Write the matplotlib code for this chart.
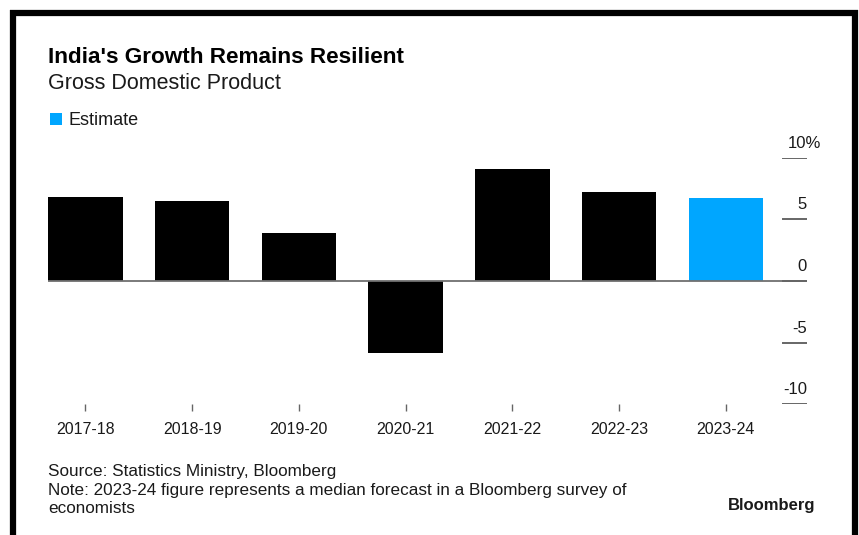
import matplotlib.pyplot as plt
from matplotlib.lines import Line2D
from matplotlib.patches import Rectangle

# GDP growth by fiscal year, last one is the survey estimate
years = ["2017-18", "2018-19", "2019-20", "2020-21", "2021-22", "2022-23", "2023-24"]
growth = [6.8, 6.5, 3.9, -5.8, 9.1, 7.2, 6.7]
is_estimate = [False, False, False, False, False, False, True]
y_ticks = [10, 5, 0, -5, -10]
y_labels = ["10%", "5", "0", "-5", "-10"]

BLUE = "#00a6ff"
GRAY = "#666666"
TXT = "#1a1a1a"

plt.rcParams["font.family"] = ["Liberation Sans", "DejaVu Sans"]

fig = plt.figure(figsize=(8.59, 5.35), dpi=100)
fig.patch.set_facecolor("white")

# frame round the whole graphic
W, H = 859.0, 535.0
frame = dict(color="black", lw=4.5, solid_capstyle="butt")
fig.add_artist(Line2D([13 / W, 13 / W], [0, 1 - 10 / H], **frame))
fig.add_artist(Line2D([10 / W, 858 / W], [1 - 13 / H, 1 - 13 / H], **frame))
fig.add_artist(Line2D([855 / W, 855 / W], [0, 1 - 10 / H], **frame))

ax = fig.add_axes([48 / W, 1 - 404.3 / H, (807 - 48) / W, (404.3 - 157.7) / H])
x = list(range(len(years)))
colors = [BLUE if e else "black" for e in is_estimate]
ax.bar(x, growth, width=0.7, color=colors, zorder=2)
ax.set_xlim(-0.35, 6.76)
ax.set_ylim(-10, 10)

for s in ax.spines.values():
    s.set_visible(False)
ax.axhline(0, color="#707070", lw=1.3, zorder=3)

# right-hand scale: short rule under each label, the % sign hangs past the rule
for v, lab in zip(y_ticks, y_labels):
    ax.axhline(v, xmin=0.968, xmax=1.0, color=GRAY, lw=1.4, zorder=3)
    dx = 10.5 if lab.endswith("%") else 0
    ax.annotate(lab, xy=(1.0, v), xycoords=("axes fraction", "data"),
                xytext=(dx, 5), textcoords="offset points",
                ha="right", va="bottom", fontsize=12, color=TXT)

ax.set_yticks([])
ax.set_xticks(x)
ax.set_xticklabels(years, fontsize=11.5, color=TXT)
ax.tick_params(axis="x", length=5, width=1, color=GRAY, pad=8)

# titles and legend
fig.text(48 / W, 1 - 63 / H, "India's Growth Remains Resilient", fontsize=16.2,
         fontweight="bold", color="black", va="baseline")
fig.text(48 / W, 1 - 89 / H, "Gross Domestic Product", fontsize=15.5,
         color=TXT, va="baseline")
fig.add_artist(Rectangle((50 / W, 1 - 125 / H), 12 / W, 12 / H,
                         facecolor=BLUE, edgecolor="none"))
fig.text(69 / W, 1 - 125 / H, "Estimate", fontsize=13, color=TXT, va="baseline")

# footer
foot = dict(fontsize=12.3, color=TXT, va="baseline")
fig.text(48 / W, 1 - 476 / H, "Source: Statistics Ministry, Bloomberg", **foot)
fig.text(48 / W, 1 - 495 / H,
         "Note: 2023-24 figure represents a median forecast in a Bloomberg survey of",
         **foot)
fig.text(48 / W, 1 - 513 / H, "economists", **foot)
fig.text(815 / W, 1 - 510 / H, "Bloomberg", fontsize=12, fontweight="bold",
         color=TXT, ha="right", va="baseline")

fig.savefig("out.png", dpi=100)
